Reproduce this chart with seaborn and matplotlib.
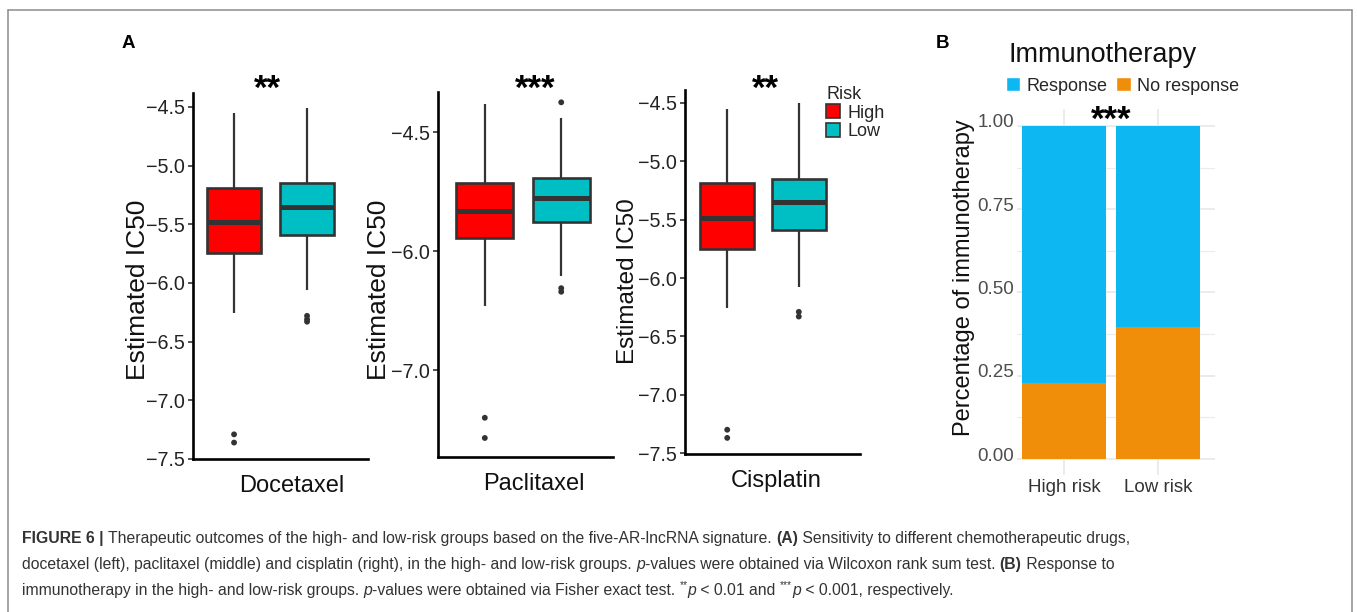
import numpy as np
import pandas as pd
import matplotlib
matplotlib.use("Agg")
import matplotlib.pyplot as plt
import matplotlib.transforms as mtransforms
from matplotlib.patches import Patch
from matplotlib.lines import Line2D
from matplotlib import font_manager
import seaborn as sns

# ---------------- data ----------------
drugs = ["Docetaxel", "Paclitaxel", "Cisplatin"]
risk_levels = ["High", "Low"]
# box summaries: lower whisker, Q1, median, Q3, upper whisker
docetaxel_high = [-6.26, -5.745, -5.48, -5.19, -4.55]
docetaxel_low = [-6.06, -5.59, -5.35, -5.15, -4.51]
paclitaxel_high = [-6.46, -5.83, -5.49, -5.14, -4.14]
paclitaxel_low = [-6.21, -5.63, -5.33, -5.07, -4.32]
cisplatin_high = [-6.26, -5.75, -5.49, -5.19, -4.55]
cisplatin_low = [-6.08, -5.59, -5.35, -5.15, -4.50]
# outlying points
docetaxel_high_out = [-7.29, -7.36]
docetaxel_low_out = [-6.28, -6.31, -6.33]
paclitaxel_high_out = [-7.40, -7.57]
paclitaxel_low_out = [-4.12, -6.31, -6.34]
cisplatin_high_out = [-7.30, -7.37]
cisplatin_low_out = [-6.29, -6.33]
significance = ["**", "***", "**"]

risk_groups = ["High risk", "Low risk"]
no_response = [0.228, 0.396]
response = [0.772, 0.604]
immuno_sig = "***"

# ---------------- style ----------------
sns.set_theme(style="white")
plt.rcParams["font.family"] = ["Liberation Sans", "DejaVu Sans"]
plt.rcParams["axes.unicode_minus"] = True

W, H, DPI = 1357, 612, 100
fig = plt.figure(figsize=(W / DPI, H / DPI), dpi=DPI)
fig.patch.set_facecolor("white")


def ax_px(x0, y0, x1, y1):
    return fig.add_axes([x0 / W, 1 - y1 / H, (x1 - x0) / W, (y1 - y0) / H])


def T(x, y, s, **kw):
    return fig.text(x / W, 1 - y / H, s, **kw)


RED, TEAL = "#FF0000", "#00BFC4"
BLUE, ORANGE = "#0DB8F2", "#F08E0A"
EDGE = "#333333"


def box_df(drug, high, low):
    rows = []
    for risk, s in zip(risk_levels, (high, low)):
        lw, q1, med, q3, uw = s
        vals = [lw] + [q1] * 10 + [med] * 10 + [q3] * 10 + [uw]
        rows += [(drug, risk, v) for v in vals]
    return pd.DataFrame(rows, columns=["drug", "risk", "value"])


def out_df(drug, high, low):
    rows = [(drug, "High", v) for v in high] + [(drug, "Low", v) for v in low]
    return pd.DataFrame(rows, columns=["drug", "risk", "value"])


def pac_fwd(y):
    y = np.asarray(y, float)
    return np.where(y >= -6.0, -6.0 + (y + 6.0) / 1.5, y)


def pac_inv(u):
    u = np.asarray(u, float)
    return np.where(u >= -6.0, -6.0 + (u + 6.0) * 1.5, u)


configs = [
    dict(high=docetaxel_high, low=docetaxel_low, oh=docetaxel_high_out, ol=docetaxel_low_out,
         box=(193, 93, 368, 459), xlim=(-0.425, 0.534), ylim=(-7.5, -4.381),
         ticks=[-4.5, -5.0, -5.5, -6.0, -6.5, -7.0, -7.5], scale=False,
         star_x=267, ylab=(150, 290, 19), xlab=(291.5, 492)),
    dict(high=paclitaxel_high, low=paclitaxel_low, oh=paclitaxel_high_out, ol=paclitaxel_low_out,
         box=(438, 92, 613, 457), xlim=(-0.445, 0.471), ylim=(-7.73, -3.99),
         ticks=[-4.5, -6.0, -7.0], scale=True,
         star_x=535, ylab=(391, 290, 19), xlab=(534, 490)),
    dict(high=cisplatin_high, low=cisplatin_low, oh=cisplatin_high_out, ol=cisplatin_low_out,
         box=(685, 90, 860, 454), xlim=(-0.436, 0.542), ylim=(-7.508, -4.389),
         ticks=[-4.5, -5.0, -5.5, -6.0, -6.5, -7.0, -7.5], scale=False,
         star_x=765.5, ylab=(639, 281, 17.5), xlab=(776, 487)),
]

for drug, sig, cfg in zip(drugs, significance, configs):
    ax = ax_px(*cfg["box"])
    df = box_df(drug, cfg["high"], cfg["low"])
    sns.boxplot(data=df, x="drug", y="value", hue="risk", hue_order=risk_levels,
                palette={"High": RED, "Low": TEAL}, saturation=1, width=0.8, gap=0.25,
                whis=(0, 100), linecolor=EDGE, linewidth=1.6, fliersize=0,
                boxprops=dict(linewidth=1.9), medianprops=dict(linewidth=3.6, color=EDGE),
                capprops=dict(linewidth=0), legend=False, ax=ax)
    odf = out_df(drug, cfg["oh"], cfg["ol"])
    sns.stripplot(data=odf, x="drug", y="value", hue="risk", hue_order=risk_levels,
                  palette={"High": EDGE, "Low": EDGE}, dodge=True, jitter=False,
                  size=4.2, linewidth=0, legend=False, ax=ax, zorder=3)
    if cfg["scale"]:
        ax.set_yscale("function", functions=(pac_fwd, pac_inv))
    ax.set_xlim(*cfg["xlim"])
    ax.set_ylim(*cfg["ylim"])
    ax.set_yticks(cfg["ticks"])
    ax.set_yticklabels([f"{v:.1f}".replace("-", "\u2212") for v in cfg["ticks"]])
    ax.minorticks_off()
    ax.set_xticks([])
    ax.set_xlabel("")
    ax.set_ylabel("")
    ax.set_facecolor("none")
    for s in ("top", "right"):
        ax.spines[s].set_visible(False)
    for s in ("left", "bottom"):
        ax.spines[s].set_linewidth(1.9)
        ax.spines[s].set_color("black")
    ax.tick_params(axis="y", left=True, length=3.5, width=1.2, color=EDGE,
                   labelsize=14.2, labelcolor="#222222", pad=2)
    yx, yy, ys = cfg["ylab"]
    T(yx, yy, "Estimated IC50", rotation=90, ha="right", va="center", fontsize=ys, color="#111111")
    T(cfg["xlab"][0], cfg["xlab"][1], drug, ha="center", va="baseline", fontsize=17, color="#111111")
    T(cfg["star_x"], 99, sig, ha="center", va="baseline", fontsize=25, fontweight="bold", color="black")

# legend for panel A
fig.legend(handles=[Patch(facecolor=RED, edgecolor=EDGE, linewidth=1.2, label="High"),
                    Patch(facecolor=TEAL, edgecolor=EDGE, linewidth=1.2, label="Low")],
           title="Risk", loc="upper left", bbox_to_anchor=(826 / W, 1 - 86 / H),
           frameon=False, fontsize=13, title_fontsize=13, alignment="left",
           handlelength=0.8, handleheight=0.8, handletextpad=0.4, labelspacing=0.08,
           borderpad=0, borderaxespad=0)

# ---------------- panel B ----------------
axB = ax_px(1017, 109, 1215, 475)
totals = [r + n for r, n in zip(response, no_response)]
sns.barplot(x=risk_groups, y=totals, color=BLUE, saturation=1, width=0.9,
            errorbar=None, linewidth=0, ax=axB, zorder=2)
sns.barplot(x=risk_groups, y=no_response, color=ORANGE, saturation=1, width=0.9,
            errorbar=None, linewidth=0, ax=axB, zorder=2)
axB.set_xlim(-0.5, 1.606)
axB.set_ylim(-0.048, 1.051)
axB.set_yticks([0, 0.25, 0.5, 0.75, 1.0])
axB.set_yticklabels(["0.00", "0.25", "0.50", "0.75", "1.00"])
axB.set_yticks([0.125, 0.375, 0.625, 0.875], minor=True)
axB.set_axisbelow(True)
axB.grid(True, which="major", color="#EBEBEB", linewidth=1.4)
axB.grid(True, which="minor", axis="y", color="#EBEBEB", linewidth=0.8)
for s in axB.spines.values():
    s.set_visible(False)
axB.tick_params(axis="both", which="both", length=0)
axB.tick_params(axis="y", labelsize=13.5, labelcolor="#4D4D4D", pad=2)
axB.tick_params(axis="x", labelsize=13.5, labelcolor="#333333", pad=3)
axB.set_xlabel("")
axB.set_ylabel("")
axB.set_facecolor("none")
shift = mtransforms.ScaledTranslation(0, 5 / DPI, fig.dpi_scale_trans)
for lbl in axB.get_yticklabels():
    lbl.set_transform(lbl.get_transform() + shift)

T(975, 277.5, "Percentage of immunotherapy", rotation=90, ha="right", va="center",
  fontsize=17, color="#111111")
T(1009, 62, "Immunotherapy", ha="left", va="baseline", fontsize=19.5, color="#111111")
T(1111, 130, immuno_sig, ha="center", va="baseline", fontsize=25, fontweight="bold", color="black")
fig.legend(handles=[Patch(facecolor=BLUE, label="Response"),
                    Patch(facecolor=ORANGE, label="No response")],
           ncol=2, loc="center left", bbox_to_anchor=(1006 / W, 1 - 86 / H),
           frameon=False, fontsize=13, handlelength=0.78, handleheight=0.78,
           handletextpad=0.35, columnspacing=0.5, borderpad=0, borderaxespad=0)

# panel letters
T(122, 48, "A", ha="left", va="baseline", fontsize=13.5, fontweight="bold", color="black")
T(936, 48, "B", ha="left", va="baseline", fontsize=13.5, fontweight="bold", color="black")

# ---------------- frame ----------------
FRAME = "#8C8C8C"
fig.add_artist(Line2D([8 / W, 8 / W], [0, 1 - 10 / H], transform=fig.transFigure, color=FRAME, lw=1.1))
fig.add_artist(Line2D([8 / W, 1352 / W], [1 - 10 / H, 1 - 10 / H], transform=fig.transFigure, color=FRAME, lw=1.1))
fig.add_artist(Line2D([1352 / W, 1352 / W], [0, 1 - 10 / H], transform=fig.transFigure, color=FRAME, lw=1.1))

# ---------------- caption ----------------
names = {f.name for f in font_manager.fontManager.ttflist}
capfam = "Liberation Sans Narrow" if "Liberation Sans Narrow" in names else "Liberation Sans"
CAP = "#333333"
caption = [
    [("FIGURE 6 | ", "b"),
     ("Therapeutic outcomes of the high- and low-risk groups based on the five-AR-lncRNA signature. ", "n"),
     ("(A)", "b"), (" Sensitivity to different chemotherapeutic drugs,", "n")],
    [("docetaxel (left), paclitaxel (middle) and cisplatin (right), in the high- and low-risk groups. ", "n"),
     ("p", "i"), ("-values were obtained via Wilcoxon rank sum test. ", "n"), ("(B)", "b"), (" Response to", "n")],
    [("immunotherapy in the high- and low-risk groups. ", "n"), ("p", "i"),
     ("-values were obtained via Fisher exact test. ", "n"), ("**", "sup"), ("p", "i"),
     (" < 0.01 and ", "n"), ("***", "sup"), ("p", "i"), (" < 0.001, respectively.", "n")],
]

fig.canvas.draw()
renderer = fig.canvas.get_renderer()


def run_kw(style, size):
    kw = dict(fontsize=size, color=CAP, family=[capfam, "DejaVu Sans"])
    if style == "b":
        kw["fontweight"] = "bold"
    elif style == "i":
        kw["fontstyle"] = "italic"
    elif style == "sup":
        kw["fontsize"] = size * 0.65
    return kw


def width_of(s, kw):
    t1 = fig.text(0, 0, "|" + s + "|", **kw)
    t2 = fig.text(0, 0, "||", **kw)
    w = t1.get_window_extent(renderer).width - t2.get_window_extent(renderer).width
    t1.remove()
    t2.remove()
    return w


base = 12.0
w1 = sum(width_of(s, run_kw(st, base)) for s, st in caption[0])
size = base * 1110.0 / w1
for line, yb in zip(caption, (543, 569, 595)):
    x = 22
    for s, st in line:
        kw = run_kw(st, size)
        dy = -size * 0.42 * DPI / 72 if st == "sup" else 0
        T(x, yb + dy, s, ha="left", va="baseline", **kw)
        x += width_of(s, kw)

fig.savefig("out.png", dpi=DPI)
